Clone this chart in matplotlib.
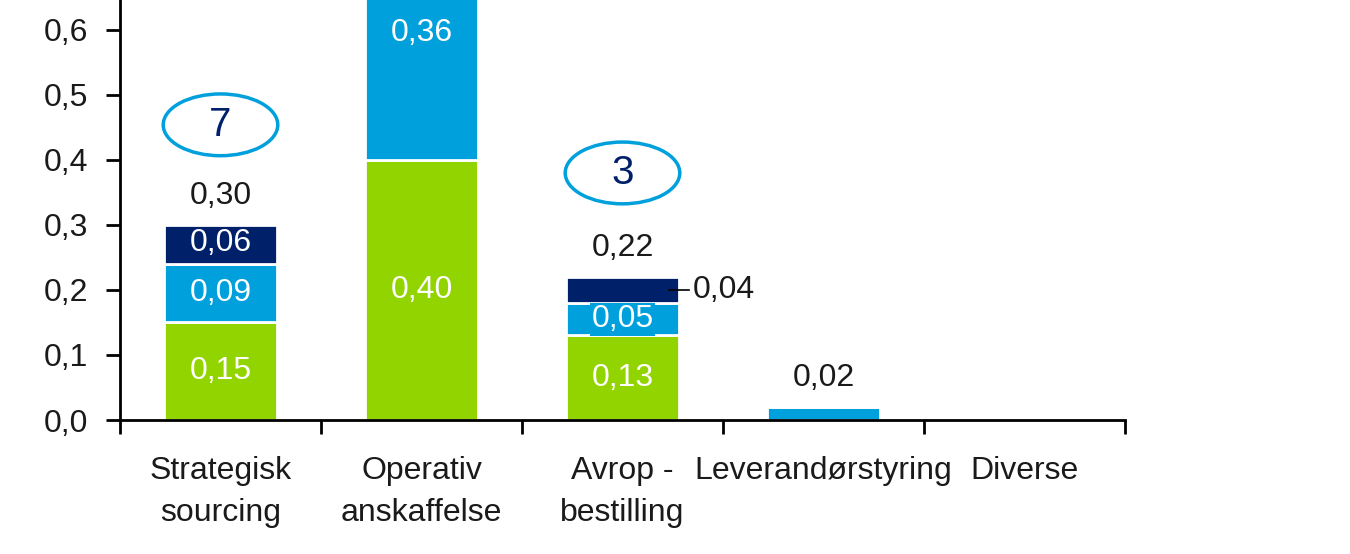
import matplotlib.pyplot as plt
from matplotlib.patches import Ellipse
import numpy as np

plt.rcParams['font.family'] = ['Liberation Sans', 'DejaVu Sans']

# Data
categories = ['Strategisk\nsourcing', 'Operativ\nanskaffelse', 'Avrop -\nbestilling',
              'Leverandørstyring', 'Diverse']
green_vals = [0.15, 0.40, 0.13, 0.0, 0.0]
light_vals = [0.09, 0.36, 0.05, 0.02, 0.0]
navy_vals = [0.06, 0.0, 0.04, 0.0, 0.0]
totals = [0.30, None, 0.22, 0.02, None]
bubbles = {0: '7', 2: '3'}

GREEN = '#92D400'
LIGHT = '#00A0DC'
NAVY = '#002169'
FS = 23

def fmt(v):
    return f'{v:.2f}'.replace('.', ',')

fig = plt.figure(figsize=(13.5, 5.54), dpi=100)
ax = fig.add_axes([120 / 1350, 134 / 554, 1005 / 1350, 420 / 554])

x = np.arange(len(categories))
w = 0.56
g = np.array(green_vals)
lb = np.array(light_vals)
nv = np.array(navy_vals)

ax.bar(x, g, w, color=GREEN, edgecolor='white', linewidth=2)
ax.bar(x, lb, w, bottom=g, color=LIGHT, edgecolor='white', linewidth=2)
ax.bar(x, nv, w, bottom=g + lb, color=NAVY, edgecolor='white', linewidth=2)

# Segment labels
for i in range(len(categories)):
    if g[i] > 0:
        ax.text(x[i], g[i] / 2, fmt(g[i]), ha='center', va='center',
                color='white', fontsize=FS)
    if lb[i] > 0 and i != 3:
        y = g[i] + lb[i] / 2
        if i == 1:
            y = 0.595
        ax.text(x[i], y, fmt(lb[i]), ha='center', va='center', color='white',
                fontsize=FS,
                bbox=dict(facecolor=LIGHT, edgecolor='none', pad=1) if i == 2 else None)
    if nv[i] > 0:
        yc = g[i] + lb[i] + nv[i] / 2
        if i == 2:
            ax.plot([x[i] + 0.23, x[i] + 0.33], [yc, yc], color='black', lw=1.2)
            ax.text(x[i] + 0.35, yc, fmt(nv[i]), ha='left', va='center',
                    color='#1a1a1a', fontsize=FS)
        else:
            ax.text(x[i], yc + 0.003, fmt(nv[i]), ha='center', va='center',
                    color='white', fontsize=FS)

# Totals
for i, t in enumerate(totals):
    if t is not None:
        ax.text(x[i], t + 0.044, fmt(t), ha='center', va='center',
                color='#1a1a1a', fontsize=FS)

# Bubbles
bubble_y = {0: 0.454, 2: 0.38}
for i, s in bubbles.items():
    ax.add_patch(Ellipse((x[i], bubble_y[i]), 0.57, 0.095, facecolor='white',
                         edgecolor=LIGHT, lw=2.5))
    ax.text(x[i], bubble_y[i], s, ha='center', va='center', color=NAVY,
            fontsize=29)

ax.set_xlim(-0.5, len(categories) - 0.5)
ax.set_ylim(0, 0.646)
ax.set_yticks(np.arange(0, 0.61, 0.1))
ax.set_yticklabels([f'{v:.1f}'.replace('.', ',') for v in np.arange(0, 0.61, 0.1)],
                   fontsize=FS, color='#1a1a1a')
ax.tick_params(axis='y', direction='out', length=10, width=2, pad=13)

ax.set_xticks(np.arange(-0.5, len(categories)), labels=[''] * (len(categories) + 1))
ax.tick_params(axis='x', which='major', direction='out', length=10, width=2)
ax.set_xticks(x, labels=categories, minor=True)
ax.tick_params(axis='x', which='minor', length=0, pad=26, labelsize=FS,
               labelcolor='#1a1a1a')
for lbl in ax.get_xticklabels(minor=True):
    lbl.set_linespacing(1.5)

for s in ['top', 'right']:
    ax.spines[s].set_visible(False)
ax.spines['left'].set_linewidth(2)
ax.spines['bottom'].set_linewidth(2)

fig.savefig('out.png', dpi=100)
